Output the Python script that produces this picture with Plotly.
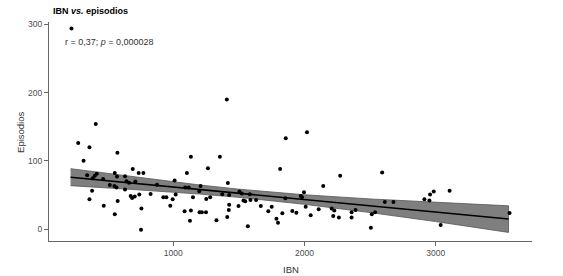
import plotly.graph_objects as go

# Scatter data (IBN vs episodios)
ibn = [224, 1408, 409, 275, 361, 574, 316, 691, 736, 772, 343, 417, 402, 386, 465,
       554, 571, 632, 643, 663, 711, 516, 551, 567, 632, 381, 876, 1010, 361, 470,
       576, 675, 686, 706, 741, 827, 924, 947, 995, 757, 977, 554, 754,
       1857, 1134, 1355, 1104, 1264, 1814, 1416, 1091, 1117, 1208, 1198, 1018, 1150,
       1251, 1281, 1373, 1426, 1504, 1522, 1583, 1535, 1548, 1588, 1631, 1497, 1426,
       1423, 1411, 1329, 1667, 1750, 1724, 1786, 1798, 1831, 1854, 1907, 1086, 1134,
       1200, 1218, 1249, 1127, 1568,
       2019, 2592, 2272, 2143, 1996, 1971, 1981, 2009, 1938, 2047, 2108, 2207, 2227,
       2219, 2262, 2359, 2389, 2359, 2513, 2538, 2506, 2612, 2678,
       3106, 2985, 2957, 2914, 2952, 3038, 3563]
episodios = [294, 190, 154, 126, 120, 112, 100, 88, 82, 82, 79, 81, 78, 74.5, 73.5,
             82, 77, 77.5, 70, 68, 69.6, 64.7, 63, 61, 58, 56, 65, 71, 43.6, 34,
             41, 48.5, 45.6, 47.5, 50.5, 51.5, 46.6, 46.6, 43.6, 30, 34, 21.6, -1,
             133, 106, 106, 82, 89, 88, 67.6, 61, 61, 63, 55.4, 50.5, 46.6,
             44, 46.6, 51, 50, 55, 52, 51, 41.7, 40.7, 42.6, 42.6, 33.8, 35.7,
             28, 17.6, 12.7, 33.8, 32.8, 26, 15, 9, 23, 45, 26.5, 26, 27,
             24.5, 24.5, 24.5, 12, 4,
             142, 83, 78, 63, 54, 48.5, 46.6, 32.8, 24, 20, 29, 30, 27,
             19, 16.7, 24.5, 28, 16.7, 21.6, 24.5, 2, 39.7, 39.7,
             56, 55, 50.5, 43.6, 41.7, 6, 23.5]

# Fitted line and confidence band
fit_x = [217, 700, 1200, 1500, 2000, 2500, 3000, 3555]
fit_y = [76.0, 67.1, 57.9, 52.4, 43.2, 34.1, 24.9, 14.7]
band_hi = [88.5, 76.4, 64.6, 58.4, 50.2, 44.1, 38.9, 34.0]
band_lo = [63.5, 57.8, 51.2, 46.4, 36.2, 24.1, 10.9, -5.0]

x_ticks = [1000, 2000, 3000]
y_ticks = [0, 100, 200, 300]

FONT = "Liberation Sans, Arial, sans-serif"

fig = go.Figure()
fig.add_trace(go.Scatter(
    x=fit_x + fit_x[::-1], y=band_hi + band_lo[::-1],
    fill="toself", fillcolor="#7f7f7f", mode="lines",
    line=dict(color="#555555", width=0.8), hoverinfo="skip", showlegend=False))
fig.add_trace(go.Scatter(
    x=ibn, y=episodios, mode="markers",
    marker=dict(color="black", size=4), showlegend=False))
fig.add_trace(go.Scatter(
    x=fit_x, y=fit_y, mode="lines",
    line=dict(color="black", width=1.6), showlegend=False))

axis_common = dict(showline=True, linecolor="#666666", linewidth=1.2,
                   ticks="outside", ticklen=4, tickcolor="#666666", tickwidth=1,
                   showgrid=False, zeroline=False,
                   tickfont=dict(family=FONT, size=8.5, color="#4d4d4d"))

fig.update_xaxes(range=[52.6, 3734], tickvals=x_ticks, **axis_common)
fig.update_yaxes(range=[-17.6, 303.6], tickvals=y_ticks, **axis_common)

fig.update_layout(
    width=563, height=276,
    margin=dict(l=49, r=31, t=22, b=35),
    plot_bgcolor="white", paper_bgcolor="white",
    font=dict(family=FONT),
    annotations=[
        dict(text="<b>IBN <i>vs.</i> episodios</b>", xref="paper", yref="paper",
             x=0.004, y=1.0525, xanchor="left", yanchor="middle", showarrow=False,
             font=dict(family=FONT, size=9, color="black")),
        dict(text="r = 0,37; <i>p</i> = 0,000028", xref="x", yref="y",
             x=159, y=275, xanchor="left", yanchor="middle", showarrow=False,
             font=dict(family=FONT, size=9, color="#333333")),
        dict(text="Episodios", xref="paper", yref="paper", x=-0.058, y=0.498,
             xanchor="center", yanchor="middle", textangle=-90, showarrow=False,
             font=dict(family=FONT, size=9.5, color="#333333")),
        dict(text="IBN", xref="paper", yref="paper", x=0.502, y=-0.132,
             xanchor="center", yanchor="middle", showarrow=False,
             font=dict(family=FONT, size=9.5, color="#333333")),
    ],
)

fig.write_html("out.html", config={"displayModeBar": False},
               post_script="document.body.style.margin='0';document.body.style.overflow='hidden';")
